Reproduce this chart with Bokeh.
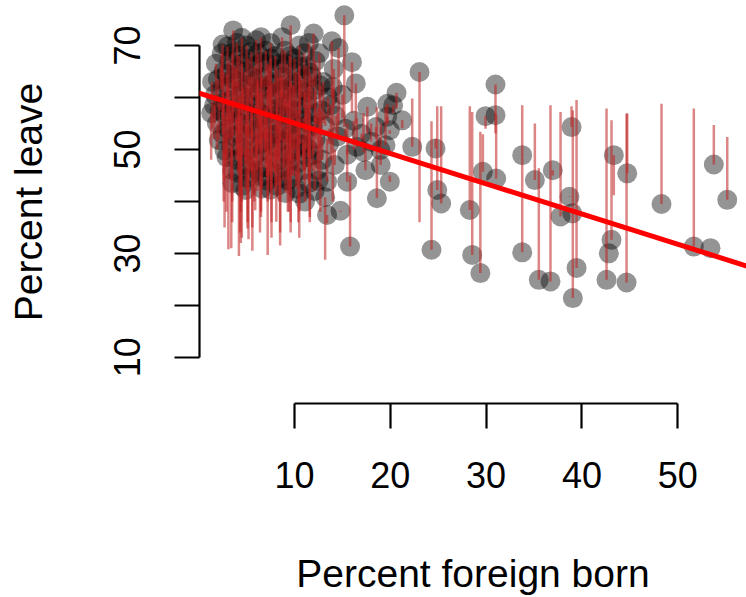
from bokeh.plotting import figure
from bokeh.models import Range1d, FixedTicker, Slope, ColumnDataSource
from bokeh.embed import file_html
from bokeh.resources import INLINE

# (percent foreign born, percent leave, other end of the red segment)
pts = [
    # dense cluster
    (1.8,66.5,60),(2.0,63.5,58),(1.7,60.5,55),(2.2,57.5,59),(1.9,55,50),(2.1,51.8,58),(2.4,68.5,62),(2.6,65,44),(1.6,58.5,52),(2.3,61.5,66),
    (3.0,69.8,60),(3.2,67,52),(2.9,64.5,38),(3.1,62,30.8),(3.3,59.5,55),(2.8,56.5,47),(3.0,54,62),(3.4,50.5,44),(2.9,48.5,53),(3.6,72.9,58),(3.5,46,40),
    (4.0,70.5,62),(4.2,68,29.5),(3.9,65.5,55),(4.1,63,48),(4.3,60.5,34),(3.8,58,66),(4.0,55.5,50),(4.2,53,59),(4.4,50.5,38),(3.9,48,56),(4.1,45.5,52),(4.5,71.5,57),
    (5.0,70,60),(5.2,67.5,44),(4.8,65,57),(5.1,62.5,36),(5.3,60,64),(4.9,57.5,48),(5.2,55,32.7),(5.0,52.5,60),(5.4,50,46),(4.9,47,55),(5.1,44.5,34.8),(4.9,42.2,50),
    (6.0,71,58),(6.2,68.5,50),(5.8,66,60),(6.1,63.5,42),(6.3,61,55),(5.9,58.5,38.3),(6.2,56,63),(6.0,53.5,48),(6.4,51,57),(5.8,48.5,40),(6.1,46,52),(6.6,42.5,55),(6.5,71.6,54),
    (7.0,69,62),(7.2,66.5,29.7),(6.8,64,52),(7.1,61.5,45),(7.3,59,66),(6.9,56.5,50),(7.2,54,40),(7.0,51.5,58),(7.4,49,45),(6.9,46.5,54),(7.2,44,50),(7.5,70.5,56),
    (8.0,68,60),(8.2,65.5,48),(7.8,63,55),(8.1,60.5,36.1),(8.3,58,64),(7.9,55.5,46),(8.2,53,58),(8.0,50.5,42),(8.4,48,55),(7.9,45.5,50),(8.2,43,52),(8.7,71.6,60),
    (9.0,69,58),(9.2,66.5,50),(8.8,64,44),(9.1,61.5,57),(9.3,59,38),(8.9,56.5,60),(9.2,54,48),(9.0,51.5,55),(9.4,49,38),(8.9,46.5,52),(9.06,41.6,50),(9.6,73.9,62),(9.3,44,48),
    (10.0,67.5,60),(10.2,65,52),(9.8,62.5,45),(10.1,60,56),(10.3,57.5,48),(9.9,55,62),(10.2,52.5,44),(10.0,50,55),(10.4,47.5,50),(9.9,45,53),(10.5,70,57),(10.2,42.5,46),
    (11.0,68.5,58),(11.2,66,50),(10.8,63.5,60),(11.1,61,46),(11.3,58.5,54),(10.9,56,48),(11.2,53.5,57),(11.0,51,44),(11.4,48.5,55),(10.9,46,52),(11.1,40,47),(11.5,43.5,50),
    (12.0,72.3,62),(12.2,67,55),(11.8,64,58),(12.1,61.5,50),(12.3,57,55),(11.9,54.5,46),(12.2,52,56),(12.0,49,52),(12.4,46,54),(12.1,42,48),
    (2.5,70.2,56),(2.6,59,40),(2.5,53,61),(2.7,49.8,35),(1.3,57,48),(1.4,63,54),
    (3.5,68.5,45),(3.6,63.5,57),(3.4,57,31),(3.6,52.5,60),(3.5,43.5,36),
    (4.5,66.5,40),(4.6,61.5,58),(4.4,56.5,32),(4.6,48.8,62),(4.5,43,33),
    (5.5,68.8,52),(5.6,64,35),(5.4,58.8,60),(5.6,53.8,30.5),(5.5,45.5,58),
    (6.5,66.8,38),(6.6,62,64),(6.4,57,34),(6.6,49.8,61),(6.5,44.8,37),
    (7.5,67.5,46),(7.6,62.5,33),(7.4,57.8,62),(7.6,52.8,36),(7.5,42.3,55),
    (8.5,66.5,34),(8.6,61.5,60),(8.4,56.8,40),(8.6,51.8,64),(8.5,44.5,31.5),
    (9.5,68,48),(9.6,63,36),(9.4,58,62),(9.6,53,34),(9.5,47.8,60),
    (10.5,66,38),(10.6,61.5,64),(10.4,55.8,36),(10.6,51,62),(10.5,41.5,33),
    (11.5,70.5,44),(11.6,64.8,36),(11.4,59.5,62),(11.6,55,37),(11.5,50,60),
    (12.6,68.5,50),(12.7,62.3,38),(12.5,44,58),(13.8,58.5,48),(14.0,62,40),(14.6,69.5,55),(13.9,70.8,60),
    (13.0,63,55),(13.5,60,56),(12.8,57.5,52),(13.2,54.5,57),(13.6,51,54),(12.9,48,52),(13.4,43.8,52),(13.4,37.4,35.8),(13.2,40.8,28.75),
    (14.1,65.5,58),(14.3,56.5,53),(14.5,52.5,57),(14.2,47,50),(14.8,38.2,38),(15.2,75.8,54.3),(15.0,60.5,56),(15.3,54,52),(15.5,49,55),
    (15.5,43.8,50),(15.8,31.3,45),(16.0,66.8,57),(16.4,62.7,55),(16.2,55.5,50),(16.5,50.5,56),(17.0,53,52),(17.4,46,50),(17.6,58.2,53),
    (17.2,49.5,57),(18.0,51.5,55),(18.5,54.3,52),(18.6,40.6,58.1),(19.7,58.8,55),(19.0,47,55),
    # sparse part
    (20.65,60.9,57.9),(20.3,58.5,57),(19.67,56.3,55),(19.5,50.8,58.2),(21.24,55.6,54.1),(19.95,53.7,53),(18.98,49.9,50),
    (22.29,50.5,59.8),(23.05,64.9,36.0),(24.72,50.2,52),(24.9,42.2,58.3),(25.31,39.6,58.3),(24.3,30.7,55.4),
    (19.95,43.8,45),(28.3,38.35,58.3),(28.55,29.7,57.2),(29.4,26.2,53.4),(29.66,45.7,52.9),(29.94,56.4,54.0),
    (30.98,56.6,57),(30.98,62.5,53.1),(31.05,44.4,56.6),(33.77,48.9,49),(33.77,30.2,58.5),(35.09,44.1,55.0),
    (35.5,24.9,46.4),(36.72,24.6,58.5),(36.96,46.0,45),(37.77,37.1,57.2),(38.7,40.9,41),(38.92,54.3,58.3),
    (38.99,37.7,38),(39.05,21.4,57.5),(39.44,27.2,59.5),(42.57,24.9,57.9),(43.09,32.6,55.6),(42.81,30.0,30),
    (43.33,48.9,41.2),(44.73,45.4,56.9),(44.66,24.4,56.9),(48.31,39.5,58.8),(51.68,31.3,57.9),(53.42,31.0,31),
    (53.77,47.1,54.7),(55.17,40.3,52.4),
]
foreign_born = [p[0] for p in pts]
leave = [p[1] for p in pts]
leave_other = [p[2] for p in pts]

fit_intercept = 60.86
fit_slope = -0.582

x_ticks = [10, 20, 30, 40, 50]
y_ticks = [10, 20, 30, 40, 50, 60, 70]
y_labels = {20: "", 40: "", 60: ""}

src = ColumnDataSource(dict(x=foreign_born, y=leave, y2=leave_other))

p = figure(width=746, height=597, output_backend="svg", toolbar_location=None,
           x_range=Range1d(0.084, 57.18), y_range=Range1d(1.11, 78.66),
           min_border_left=199, min_border_right=0, min_border_top=0, min_border_bottom=193)
p.outline_line_color = None
p.grid.visible = False
p.background_fill_color = "white"

p.scatter("x", "y", source=src, size=20, fill_color="black", fill_alpha=0.42, line_color=None)
p.segment(x0="x", y0="y", x1="x", y1="y2", source=src, line_color="#C02020", line_alpha=0.55, line_width=2.5)
p.add_layout(Slope(gradient=fit_slope, y_intercept=fit_intercept, line_color="red", line_width=5))

FONT = "Liberation Sans"
for ax in (p.xaxis[0], p.yaxis[0]):
    ax.axis_line_width = 2.2
    ax.major_tick_line_width = 2.2
    ax.major_tick_out = 25
    ax.major_tick_in = 0
    ax.minor_tick_line_color = None
    ax.major_label_text_font = FONT
    ax.major_label_text_font_size = "36px"
    ax.major_label_text_color = "black"
    ax.axis_label_text_font = FONT
    ax.axis_label_text_font_size = "39px"
    ax.axis_label_text_font_style = "normal"
    ax.axis_label_text_color = "black"

xa = p.xaxis[0]
xa.ticker = FixedTicker(ticks=x_ticks)
xa.bounds = (10, 50)
xa.axis_label = "Percent foreign born"
xa.major_label_standoff = 33
xa.axis_label_standoff = 61

ya = p.yaxis[0]
ya.ticker = FixedTicker(ticks=y_ticks)
ya.bounds = (10, 70)
ya.major_label_overrides = y_labels
ya.major_label_orientation = "vertical"
ya.axis_label = "Percent leave"
ya.major_label_standoff = 34
ya.axis_label_standoff = 62

open("out.html", "w").write(file_html(p, INLINE))
